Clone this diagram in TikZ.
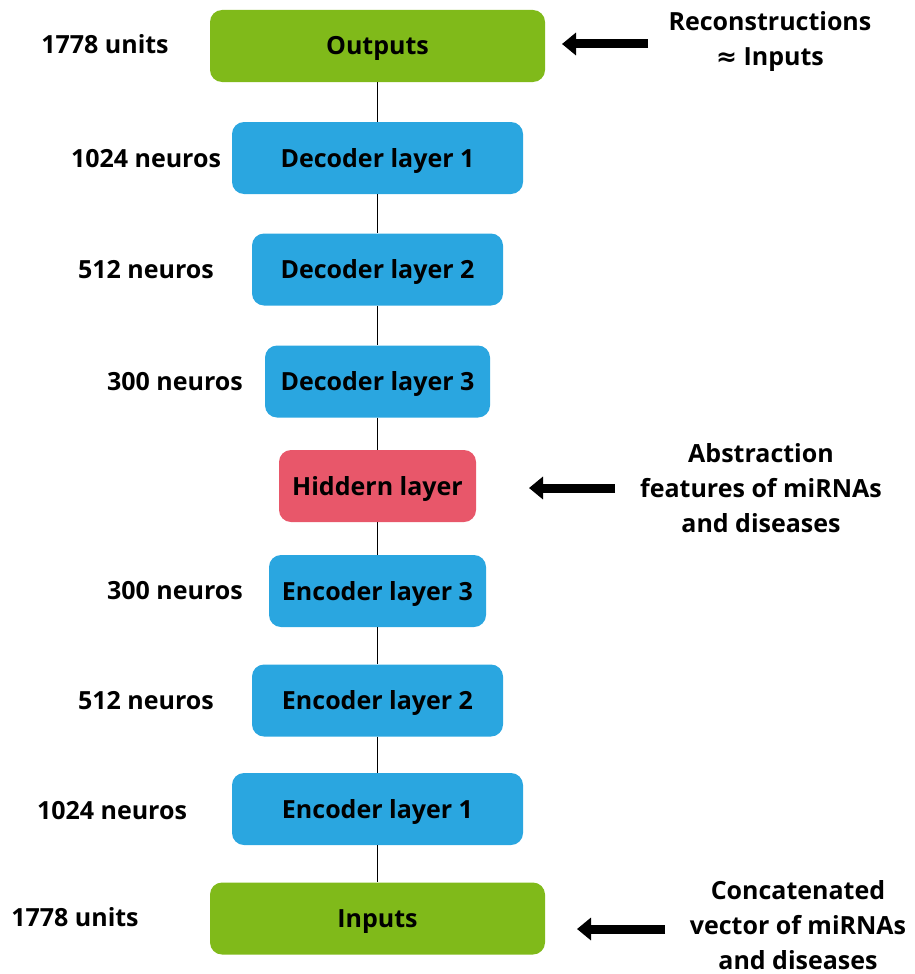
\documentclass[tikz,border=0pt]{standalone}
\usepackage{fontspec}
\setmainfont{Open Sans}
\newfontfamily\symfont{DejaVu Sans}
\usetikzlibrary{arrows.meta}
\definecolor{ioGreen}{HTML}{80BA1A}
\definecolor{layerBlue}{HTML}{2AA6E0}
\definecolor{hiddenRed}{HTML}{E8576A}
\tikzset{
  x=1pt, y=-1pt,
  layer/.style={rounded corners=12pt, minimum height=72pt, inner sep=0pt,
    text height=18pt, text depth=0pt,
    font=\fontsize{25}{30}\selectfont\bfseries, text=black},
  iobox/.style={layer, fill=ioGreen, minimum width=335pt},
  blue/.style={layer, fill=layerBlue},
  hid/.style={layer, fill=hiddenRed, minimum width=197pt},
  sidelabel/.style={font=\fontsize{25}{35}\selectfont\bfseries, align=center, inner sep=0pt},
  link/.style={line width=1.6pt, black},
  pointer/.style={line width=9pt, -{Triangle[length=14pt, width=22pt]}}
}
\begin{document}
\begin{tikzpicture}
\useasboundingbox (0,0) rectangle (914,974);
% layer stack
\node[iobox] (out) at (377.5,46) {Outputs};
\node[blue, minimum width=291pt] (d1) at (377.5,158) {Decoder layer 1};
\node[blue, minimum width=251pt] (d2) at (377.5,269.5) {Decoder layer 2};
\node[blue, minimum width=225pt] (d3) at (377.5,381.5) {Decoder layer 3};
\node[hid] (hid) at (377.5,486) {Hiddern layer};
\node[blue, minimum width=217pt] (e3) at (377.5,591) {Encoder layer 3};
\node[blue, minimum width=251pt] (e2) at (377.5,700.5) {Encoder layer 2};
\node[blue, minimum width=291pt] (e1) at (377.5,809) {Encoder layer 1};
\node[iobox] (in) at (377.5,918.5) {Inputs};
% connecting lines
\foreach \a/\b in {out/d1, d1/d2, d2/d3, d3/hid, hid/e3, e3/e2, e2/e1, e1/in}
  \draw[link] (\a.south) -- (\b.north);
% sizes
\node[sidelabel] (s0) at (105,44) {1778 units};
\node[sidelabel] (s1) at (146,159) {1024 neuros};
\node[sidelabel] (s2) at (146,270) {512 neuros};
\node[sidelabel] (s3) at (175,382) {300 neuros};
\node[sidelabel] (s4) at (175,591) {300 neuros};
\node[sidelabel] (s5) at (146,701) {512 neuros};
\node[sidelabel] (s6) at (112,811) {1024 neuros};
\node[sidelabel] (s7) at (75,917) {1778 units};
% annotations
\node[sidelabel] (n1) at (770,42) {Reconstructions\\{\symfont\bfseries ≈} Inputs};
\node[sidelabel] (n2) at (761,488) {Abstraction\\features of miRNAs\\and diseases};
\node[sidelabel] (n3) at (798,925) {Concatenated\\vector of miRNAs\\and diseases};
\coordinate (p1s) at (648,44);  \coordinate (p1e) at (562,44);
\coordinate (p2s) at (615,488); \coordinate (p2e) at (529,488);
\coordinate (p3s) at (665,929); \coordinate (p3e) at (577,929);
\draw[pointer] (p1s) -- (p1e);
\draw[pointer] (p2s) -- (p2e);
\draw[pointer] (p3s) -- (p3e);
\end{tikzpicture}
\end{document}
